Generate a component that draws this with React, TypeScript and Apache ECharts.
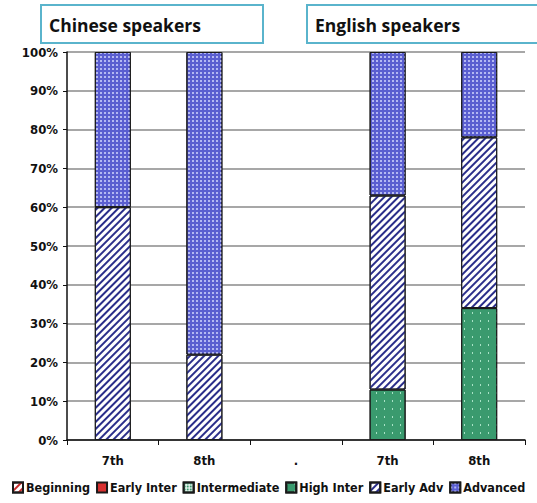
import React, { useEffect, useRef } from "react";
import * as echarts from "echarts";

const categories = ["7th", "8th", ".", "7th", "8th"];
const seriesNames = ["Beginning", "Early Inter", "Intermediate", "High Inter", "Early Adv", "Advanced"];
const beginning = [0, 0, 0, 0, 0];
const earlyInter = [0, 0, 0, 0, 0];
const intermediate = [0, 0, 0, 0, 0];
const highInter = [0, 0, 0, 13, 34];
const earlyAdv = [60, 22, 0, 50, 44];
const advanced = [40, 78, 0, 37, 22];
const yTicks = [0, 10, 20, 30, 40, 50, 60, 70, 80, 90, 100];
const panelTitles = ["Chinese speakers", "English speakers"];

const FONT = "'DejaVu Sans Condensed', 'Liberation Sans Narrow', 'Liberation Sans', Arial, sans-serif";

export default function App() {
  const ref = useRef<HTMLDivElement>(null);
  useEffect(() => {
    if (!ref.current) return;
    const chart = echarts.init(ref.current, null, { renderer: "svg" });
    const values = [beginning, earlyInter, intermediate, highInter, earlyAdv, advanced];
    const styles: any[] = [
      {
        color: "#ffffff",
        decal: { symbol: "rect", color: "#c62828", dashArrayX: [1, 0], dashArrayY: [2, 3], rotation: -Math.PI / 4 },
      },
      { color: "#d83030" },
      {
        color: "#ffffff",
        decal: { symbol: "rect", color: "#3a9a6e", dashArrayX: [2, 1], dashArrayY: [2, 1], symbolSize: 1 },
      },
      {
        color: "#3a9a6e",
        decal: { symbol: "rect", color: "#a8e2c6", dashArrayX: [1, 7], dashArrayY: [2, 6], symbolSize: 1 },
      },
      {
        color: "#ffffff",
        decal: { symbol: "rect", color: "#2a2e8a", dashArrayX: [1, 0], dashArrayY: [2, 3], rotation: -Math.PI / 4 },
      },
      {
        color: "#5a5ed0",
        decal: { symbol: "rect", color: "#b4b8f2", dashArrayX: [1.5, 1.5], dashArrayY: [1.5, 1.5], symbolSize: 1 },
      },
    ];
    const series = seriesNames.map((name, i) => ({
      name,
      type: "bar",
      stack: "total",
      barWidth: 36,
      itemStyle: { ...styles[i], borderColor: "#1a1a1a", borderWidth: 1 },
      data: values[i].map((v) => (v === 0 ? "-" : v)),
    }));
    chart.setOption({
      animation: false,
      aria: { enabled: false, decal: { show: false } },
      grid: { left: 67, right: 12, top: 52, bottom: 63 },
      legend: {
        top: 481,
        left: 12,
        padding: 0,
        itemWidth: 10,
        itemHeight: 10,
        itemGap: 6,
        icon: "rect",
        textStyle: { fontFamily: FONT, fontWeight: "bold", fontSize: 12.5, color: "#111", padding: [0, 0, 0, -2] },
        data: seriesNames,
      },
      xAxis: {
        type: "category",
        data: categories,
        axisLine: { lineStyle: { color: "#111", width: 1.5 } },
        axisTick: { show: true, length: 5, lineStyle: { color: "#111" } },
        axisLabel: { fontFamily: FONT, fontWeight: "bold", fontSize: 13, color: "#111", margin: 14 },
      },
      yAxis: {
        type: "value",
        min: 0,
        max: 100,
        interval: 10,
        axisLine: { show: true, lineStyle: { color: "#111", width: 1.5 } },
        axisTick: { show: true, length: 4, lineStyle: { color: "#111" } },
        splitLine: { show: true, lineStyle: { color: "#8a8a8a", width: 1.5 } },
        axisLabel: {
          formatter: (v: number) => (yTicks.includes(v) ? v + "%" : ""),
          fontFamily: FONT,
          fontWeight: "bold",
          fontSize: 13,
          color: "#111",
          margin: 9,
        },
      },
      graphic: [
        {
          type: "rect",
          shape: { x: 41, y: 5, width: 222, height: 38 },
          style: { fill: "#ffffff", stroke: "#5ab4cc", lineWidth: 2 },
          z: 100,
        },
        {
          type: "text",
          x: 49,
          y: 25,
          style: { text: panelTitles[0], fontFamily: "'Open Sans', sans-serif", fontWeight: "bold", fontSize: 17.5, fill: "#111", verticalAlign: "middle" },
          z: 101,
        },
        {
          type: "rect",
          shape: { x: 307, y: 5, width: 240, height: 38 },
          style: { fill: "#ffffff", stroke: "#5ab4cc", lineWidth: 2 },
          z: 100,
        },
        {
          type: "text",
          x: 315,
          y: 25,
          style: { text: panelTitles[1], fontFamily: "'Open Sans', sans-serif", fontWeight: "bold", fontSize: 17.5, fill: "#111", verticalAlign: "middle" },
          z: 101,
        },
      ],
      series,
    });
    return () => chart.dispose();
  }, []);
  return <div ref={ref} style={{ position: "absolute", left: 0, top: 0, width: 537, height: 503 }} />;
}
